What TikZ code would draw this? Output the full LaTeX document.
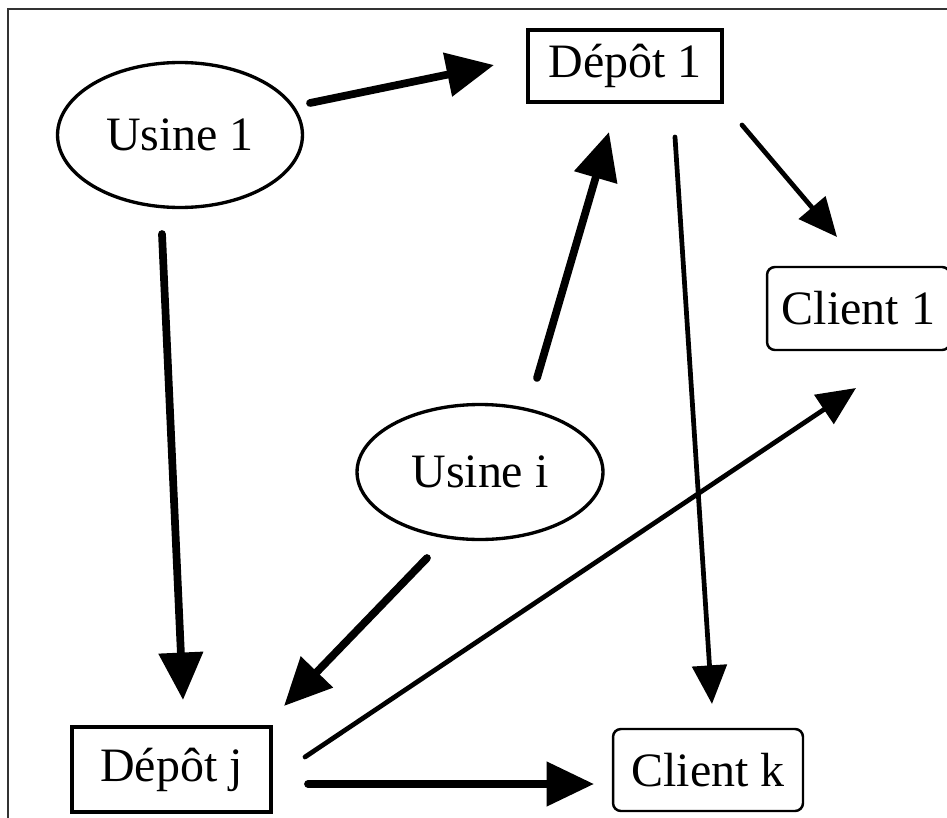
\documentclass[tikz,border=0pt]{standalone}
\usepackage{fontspec}
\setmainfont{Liberation Serif}
\usetikzlibrary{arrows.meta,shapes.geometric}

\begin{document}
\begin{tikzpicture}[x=0.02cm,y=-0.02cm,
  usine/.style={draw,ellipse,line width=1.9pt,inner sep=0pt},
  depot/.style={draw,rectangle,line width=2.8pt,inner sep=0pt},
  client/.style={draw,rectangle,rounded corners=4.5pt,line width=1.4pt,inner sep=0pt},
  flux/.style={line width=4.4pt,line cap=round,-{Triangle[length=27pt,width=24.5pt]}},
  livr/.style={line width=2.7pt,line cap=round,-{Triangle[length=22pt,width=19.5pt]}},
  font=\fontsize{27.3}{31}\selectfont]
\clip (0,0) rectangle (947,818);
\draw[line width=1.1pt,black!80] (8,9) rectangle (990,860);

\node[usine,minimum width=4.9cm,minimum height=2.9cm] (usine1) at (180,135) {Usine 1};
\node[usine,minimum width=4.92cm,minimum height=2.7cm] (usinei) at (480,472) {Usine i};
\node[depot,minimum width=3.88cm,minimum height=1.44cm] (depot1) at (625,66) {Dépôt 1};
\node[depot,minimum width=3.98cm,minimum height=1.7cm] (depotj) at (171.5,769.5) {Dépôt j};
\node[client,minimum width=3.66cm,minimum height=1.66cm] (client1) at (858.5,308.5) {Client 1};
\node[client,minimum width=3.8cm,minimum height=1.64cm] (clientk) at (708,770) {Client k};

% bouts des fleches
\coordinate (u1a) at (310,103); \coordinate (d1a) at (494,65);
\coordinate (u1b) at (162,234); \coordinate (dja) at (183,700);
\coordinate (uia) at (537,378); \coordinate (d1b) at (609,132);
\coordinate (uib) at (427,558); \coordinate (djb) at (284,706);
\coordinate (d1c) at (742,125); \coordinate (c1a) at (837,237);
\coordinate (d1d) at (675,137); \coordinate (cka) at (712,704);
\coordinate (djc) at (305,757); \coordinate (c1b) at (856,388);
\coordinate (djd) at (308,784); \coordinate (ckb) at (594,784);

\draw[flux] (u1a) -- (d1a);
\draw[flux] (u1b) -- (dja);
\draw[flux] (uia) -- (d1b);
\draw[flux] (uib) -- (djb);
\draw[livr] (d1c) -- (c1a);
\draw[livr] (d1d) -- (cka);
\draw[livr] (djc) -- (c1b);
\draw[flux] (djd) -- (ckb);
\end{tikzpicture}
\end{document}
